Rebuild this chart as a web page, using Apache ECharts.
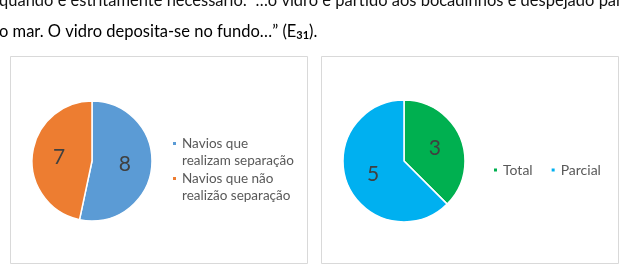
<!DOCTYPE html>
<html><head><meta charset="utf-8">
<script src="https://cdn.jsdelivr.net/npm/echarts@6/dist/echarts.min.js"></script>
<style>html,body{margin:0;padding:0;background:#fff}#c{width:621px;height:276px}</style>
</head><body><div id="c"></div>
<script>
const leftCategories = ['Navios que\nrealizam separação', 'Navios que não\nrealizão separação'];
const leftValues = [8, 7];
const leftColors = ['#5B9BD5', '#ED7D31'];
const rightCategories = ['Total', 'Parcial'];
const rightValues = [3, 5];
const rightColors = ['#00B050', '#00B0F0'];
const textLine1 = 'quando é estritamente necessário: “…o vidro é partido aos bocadinhos e despejado par';
const textLine2 = 'o mar. O vidro deposita-se no fundo…” (E';
const textSub = '31';
const textEnd = ').';

const chart = echarts.init(document.getElementById('c'), null, {renderer: 'canvas'});
const font = 'Lato';
function pieData(cats, vals, cols) {
  return cats.map((c, i) => ({name: c, value: vals[i], itemStyle: {color: cols[i]}}));
}
chart.setOption({
  animation: false,
  textStyle: {fontFamily: font},
  graphic: [
    {type: 'rect', shape: {x: 10.5, y: 56.5, width: 297, height: 207}, style: {fill: '#fff', stroke: '#d9d9d9', lineWidth: 1}, z: -10},
    {type: 'rect', shape: {x: 321.5, y: 56.5, width: 297, height: 207}, style: {fill: '#fff', stroke: '#d9d9d9', lineWidth: 1}, z: -10},
    {type: 'text', x: -1, y: 1, style: {text: textLine1, font: '16.5px Lato', fill: '#111', verticalAlign: 'middle'}},
    {type: 'text', x: -1, y: 31.5, style: {
      text: '{a|' + textLine2 + '}{s|' + textSub + '}{a|' + textEnd + '}',
      verticalAlign: 'middle',
      rich: {a: {fontSize: 16.5, fontFamily: font, color: '#111', verticalAlign: 'middle'},
             s: {fontSize: 11, fontFamily: font, fontWeight: 'bold', color: '#111', padding: [7, 0, 0, 0], verticalAlign: 'middle'}}
    }}
  ],
  legend: [
    {
      data: leftCategories, orient: 'vertical', left: 171, top: 118, padding: 0,
      itemWidth: 5, itemHeight: 5, icon: 'rect', itemGap: -16,
      selectedMode: false,
      formatter: name => '\n' + name,
      textStyle: {fontSize: 13.5, color: '#595959', lineHeight: 17, fontFamily: font}
    },
    {
      data: rightCategories, orient: 'horizontal', left: 492, top: 163, padding: 0,
      itemWidth: 5, itemHeight: 5, icon: 'rect', itemGap: 17,
      selectedMode: false,
      textStyle: {fontSize: 14, color: '#595959', fontFamily: font}
    }
  ],
  series: [
    {
      type: 'pie', center: [92, 161], radius: 60, startAngle: 90, clockwise: true,
      label: {show: true, position: 'inside', formatter: '{c}', fontSize: 21, color: '#404040', fontFamily: font},
      labelLine: {show: false},
      itemStyle: {borderColor: '#fff', borderWidth: 1.5},
      emphasis: {disabled: true},
      data: pieData(leftCategories, leftValues, leftColors)
    },
    {
      type: 'pie', center: [404, 161], radius: 61, startAngle: 90, clockwise: true,
      label: {show: true, position: 'inside', formatter: '{c}', fontSize: 21, color: '#404040', fontFamily: font},
      labelLine: {show: false},
      itemStyle: {borderColor: '#fff', borderWidth: 1.5},
      emphasis: {disabled: true},
      data: pieData(rightCategories, rightValues, rightColors)
    }
  ]
});
</script>
</body></html>
